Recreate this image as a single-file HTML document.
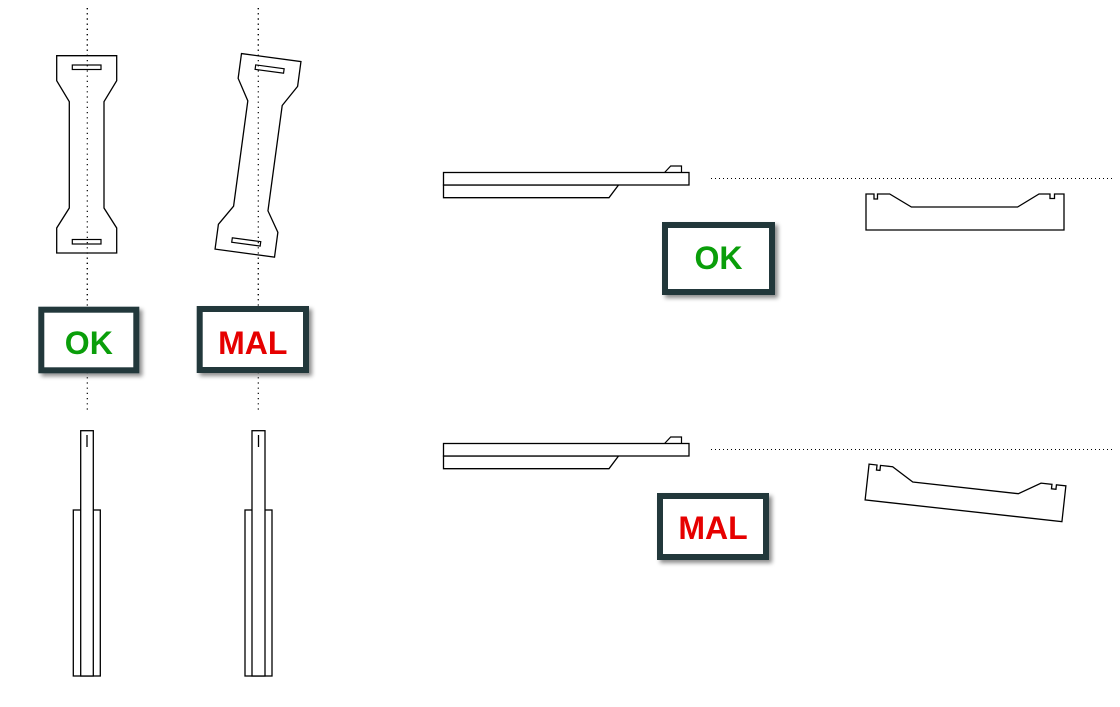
<!DOCTYPE html>
<html><head><meta charset="utf-8"><style>
html,body{margin:0;padding:0;background:#fff;}
svg{display:block;}
text{font-family:"Liberation Sans",Arial,sans-serif;font-weight:bold;font-size:32px;}
</style></head><body>
<svg width="1120" height="707" viewBox="0 0 1120 707" xmlns="http://www.w3.org/2000/svg">
<defs>
<filter id="sh" x="-20%" y="-20%" width="150%" height="150%"><feDropShadow dx="3" dy="3" stdDeviation="2" flood-color="#000" flood-opacity="0.45"/></filter>
<g id="bone">
<path d="M56.7,55.7 H116.7 V80.7 L104,101.7 V208 L116.7,228 V253 H56.7 V228 L69.3,208 V101.7 L56.7,80.7 Z" fill="#fff" stroke="#000" stroke-width="1.3"/>
<rect x="72.3" y="65" width="28.7" height="4.5" fill="#fff" stroke="#000" stroke-width="1.2"/>
<rect x="72.3" y="239.5" width="28.7" height="4.5" fill="#fff" stroke="#000" stroke-width="1.2"/>
</g>
<g id="side">
<path d="M443.5,185 H618.5 L609,197.7 H443.5 Z" fill="#fff" stroke="#000" stroke-width="1.3"/>
<path d="M664.6,172.5 L670.7,166 H681.5 V172.5" fill="#fff" stroke="#000" stroke-width="1.2"/>
<rect x="443.5" y="172.5" width="245.5" height="12.5" fill="#fff" stroke="#000" stroke-width="1.3"/>
</g>
<g id="piece">
<path d="M866,194 H874 V199 H877.5 V194 H889.7 L911.4,207 H1017.6 L1039,194 H1050 V198.5 H1054.5 V194 H1064 V230 H866 Z" fill="#fff" stroke="#000" stroke-width="1.3"/>
</g>
</defs>

<!-- dotted center lines -->
<line x1="87.3" y1="8" x2="87.3" y2="410" stroke="#000" stroke-width="1.2" stroke-dasharray="1.2 4"/>
<line x1="258.3" y1="8" x2="258.3" y2="410" stroke="#000" stroke-width="1.2" stroke-dasharray="1.2 4"/>

<use href="#bone"/>
<use href="#bone" transform="translate(171.3,1) rotate(7.7 86.7 154.4)"/>
<line x1="87.3" y1="8" x2="87.3" y2="300" stroke="#000" stroke-width="1.2" stroke-dasharray="1.2 4"/>
<line x1="258.3" y1="8" x2="258.3" y2="300" stroke="#000" stroke-width="1.2" stroke-dasharray="1.2 4"/>

<!-- labels left -->
<rect x="41.3" y="309.7" width="95" height="60.6" fill="#fff" stroke="#22383b" stroke-width="6" filter="url(#sh)"/>
<text x="88.8" y="354" text-anchor="middle" fill="#0a9e0a">OK</text>
<rect x="199.7" y="309" width="106.3" height="61" fill="#fff" stroke="#22383b" stroke-width="6" filter="url(#sh)"/>
<text x="252.8" y="354" text-anchor="middle" fill="#e60000">MAL</text>

<!-- bottom left strips -->
<g fill="#fff" stroke="#000" stroke-width="1.3">
<rect x="73.3" y="510" width="27" height="166"/>
<rect x="80.7" y="430.7" width="12.6" height="245.3"/>
<rect x="245" y="510" width="27" height="166"/>
<rect x="252" y="430.7" width="13" height="245.3"/>
</g>
<line x1="87" y1="435" x2="87" y2="447" stroke="#000" stroke-width="1.3"/>
<line x1="258.5" y1="435" x2="258.5" y2="447" stroke="#000" stroke-width="1.3"/>

<!-- right top -->
<use href="#side"/>
<line x1="711" y1="178.5" x2="1112" y2="178.5" stroke="#000" stroke-width="1" stroke-dasharray="1 3"/>
<use href="#piece"/>
<rect x="665" y="225" width="107" height="67" fill="#fff" stroke="#22383b" stroke-width="6" filter="url(#sh)"/>
<text x="718.5" y="269" text-anchor="middle" fill="#0a9e0a">OK</text>

<!-- right bottom -->
<use href="#side" transform="translate(0,271)"/>
<line x1="711" y1="449.5" x2="1112" y2="449.5" stroke="#000" stroke-width="1" stroke-dasharray="1 3"/>
<use href="#piece" transform="translate(965.5,492.9) rotate(6.3) translate(-965,-212)"/>
<rect x="660" y="496" width="106" height="61" fill="#fff" stroke="#22383b" stroke-width="6" filter="url(#sh)"/>
<text x="713" y="539" text-anchor="middle" fill="#e60000">MAL</text>
</svg>
</body></html>
